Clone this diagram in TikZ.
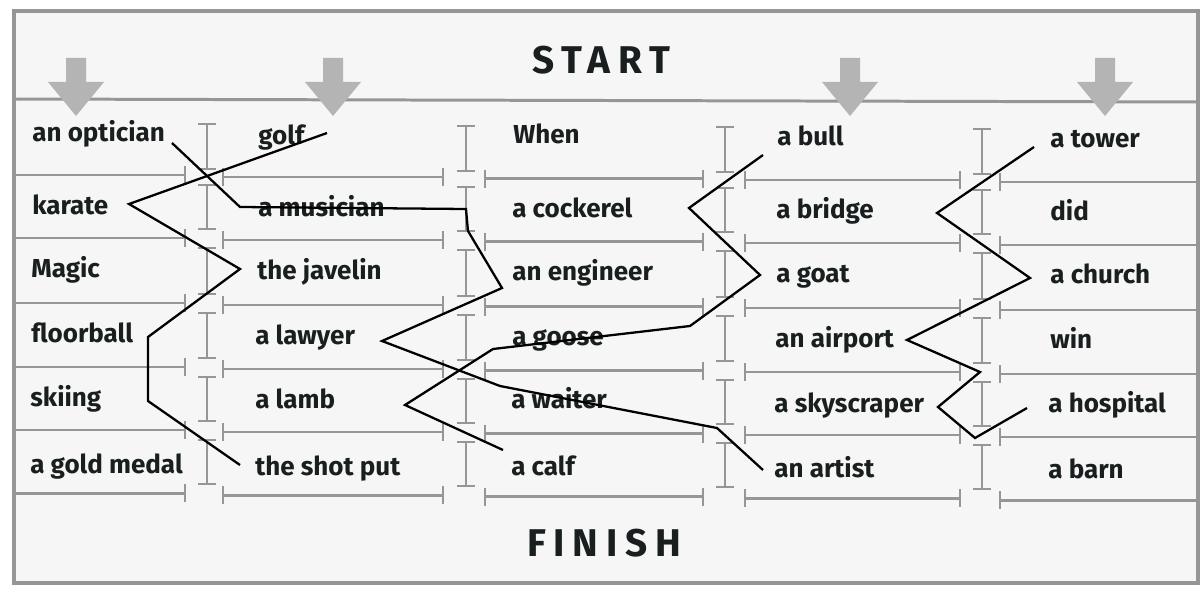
\documentclass[tikz,border=0pt]{standalone}
\usepackage{fontspec}
\setmainfont{Fira Sans}
\definecolor{gridgray}{RGB}{150,150,150}
\definecolor{arrowgray}{RGB}{180,180,180}
\definecolor{ink}{RGB}{25,30,30}
\definecolor{paper}{RGB}{246,246,246}
\begin{document}
\begin{tikzpicture}[x=0.02cm,y=-0.02cm,
  grid/.style={draw=gridgray, line width=1.7pt},
  tickline/.style={draw=gridgray, line width=1.4pt},
  border/.style={draw=gridgray, line width=2.4pt},
  word/.style={anchor=base west, font=\fontsize{14.8}{17}\selectfont\bfseries, text=ink, inner sep=0pt},
  title/.style={font=\fontsize{22}{26}\selectfont\bfseries\addfontfeature{LetterSpace=20}, text=ink, inner sep=0pt},
  maze/.style={draw=black, line width=1.3pt, line join=miter},
  garrow/.style={fill=arrowgray, draw=none}]
\useasboundingbox (0,0) rectangle (1202,588);
\fill[paper] (14,11) rectangle (1198,583);
% top divider
\draw[grid] (14,99) -- (1198,102);
% row separators
\foreach \y in {175,238,303,367,430,493} {
  \draw[grid] (14,\y) -- (185,\y);
  \draw[tickline] (185,\y-9) -- (185,\y+9);
  \foreach \a/\b/\o in {223/443/2, 485/703/3.5, 745/960/5} {
    \draw[grid] (\a,\y+\o) -- (\b,\y+\o);
    \draw[tickline] (\a,\y+\o-9) -- (\a,\y+\o+9) (\b,\y+\o-9) -- (\b,\y+\o+9);
  }
  \draw[grid] (1000,\y+7) -- (1198,\y+7);
  \draw[tickline] (1000,\y-2) -- (1000,\y+16);
}
% I-beams between columns
\foreach \x/\o in {207/1, 466/3, 725/4, 982/6} {
  \foreach \t/\bb in {123/168, 184/228, 247/293, 312/357, 376/420, 439/483} {
    \draw[tickline] (\x,\t+\o) -- (\x,\bb+\o) (\x-9,\t+\o) -- (\x+9,\t+\o) (\x-9,\bb+\o) -- (\x+9,\bb+\o);
  }
}
% border
\draw[border] (14,11) rectangle (1198,583);
% grey arrows
\foreach \x in {76,333,850,1105} {
  \fill[garrow] (\x-10,58) -- (\x+10,58) -- (\x+10,82) -- (\x+28,82) -- (\x,116) -- (\x-28,82) -- (\x-10,82) -- cycle;
}
% titles
\node[title] (start) at (601,60) {START};
\node[title] (finish) at (604,543) {FINISH};
% column 1
\node[word] (optician) at (32,141) {an optician};
\node[word] (karate) at (32,214) {karate};
\node[word] (magic) at (31,277) {Magic};
\node[word] (floorball) at (31,342) {floorball};
\node[word] (skiing) at (30,406) {skiing};
\node[word] (gold) at (30,473) {a gold medal};
% column 2
\node[word] (golf) at (258,144) {golf};
\node[word] (musician) at (258,216) {a musician};
\node[word] (javelin) at (257,279) {the javelin};
\node[word] (lawyer) at (255,344) {a lawyer};
\node[word] (lamb) at (255,408) {a lamb};
\node[word] (shotput) at (255,475) {the shot put};
% column 3
\node[word] (when) at (513,143) {When};
\node[word] (cockerel) at (512,217) {a cockerel};
\node[word] (engineer) at (512,280) {an engineer};
\node[word] (goose) at (512,345) {a goose};
\node[word] (waiter) at (511,408) {a waiter};
\node[word] (calf) at (511,475) {a calf};
% column 4
\node[word] (bull) at (777,145) {a bull};
\node[word] (bridge) at (776,218) {a bridge};
\node[word] (goat) at (776,282) {a goat};
\node[word] (airport) at (775,347) {an airport};
\node[word] (skyscraper) at (774,412) {a skyscraper};
\node[word] (artist) at (774,477) {an artist};
% column 5
\node[word] (tower) at (1050,147) {a tower};
\node[word] (did) at (1050,220) {did};
\node[word] (church) at (1050,283) {a church};
\node[word] (win) at (1050,348) {win};
\node[word] (hospital) at (1048,412) {a hospital};
\node[word] (barn) at (1048,478) {a barn};
% maze path coordinates
\coordinate (a1) at (172,143);
\coordinate (a2) at (240,207);
\coordinate (a3) at (466,209);
\coordinate (a4) at (468,231);
\coordinate (a5) at (502,288);
\coordinate (a6) at (382,341);
\coordinate (a7) at (500,386);
\coordinate (a8) at (717,428);
\coordinate (a9) at (763,470);
\coordinate (b1) at (327,133);
\coordinate (b2) at (129,204);
\coordinate (b3) at (240,269);
\coordinate (b4) at (148,337);
\coordinate (b5) at (148,401);
\coordinate (b6) at (240,465);
\coordinate (c1) at (763,155);
\coordinate (c2) at (689,208);
\coordinate (c3) at (760,275);
\coordinate (c4) at (690,326);
\coordinate (c5) at (493,349);
\coordinate (c6) at (405,405);
\coordinate (c7) at (503,450);
\coordinate (d1) at (1034,147);
\coordinate (d2) at (937,213);
\coordinate (d3) at (1030,278);
\coordinate (d4) at (907,340);
\coordinate (d5) at (980,372);
\coordinate (d6) at (938,407);
\coordinate (d7) at (975,438);
\coordinate (d8) at (1027,408);
% maze lines
\draw[maze] (a1) -- (a2) -- (a3) -- (a4) -- (a5) -- (a6) -- (a7) -- (a8) -- (a9);
\draw[maze] (b1) -- (b2) -- (b3) -- (b4) -- (b5) -- (b6);
\draw[maze] (c1) -- (c2) -- (c3) -- (c4) -- (c5) -- (c6) -- (c7);
\draw[maze] (d1) -- (d2) -- (d3) -- (d4) -- (d5) -- (d6) -- (d7) -- (d8);
\end{tikzpicture}
\end{document}
